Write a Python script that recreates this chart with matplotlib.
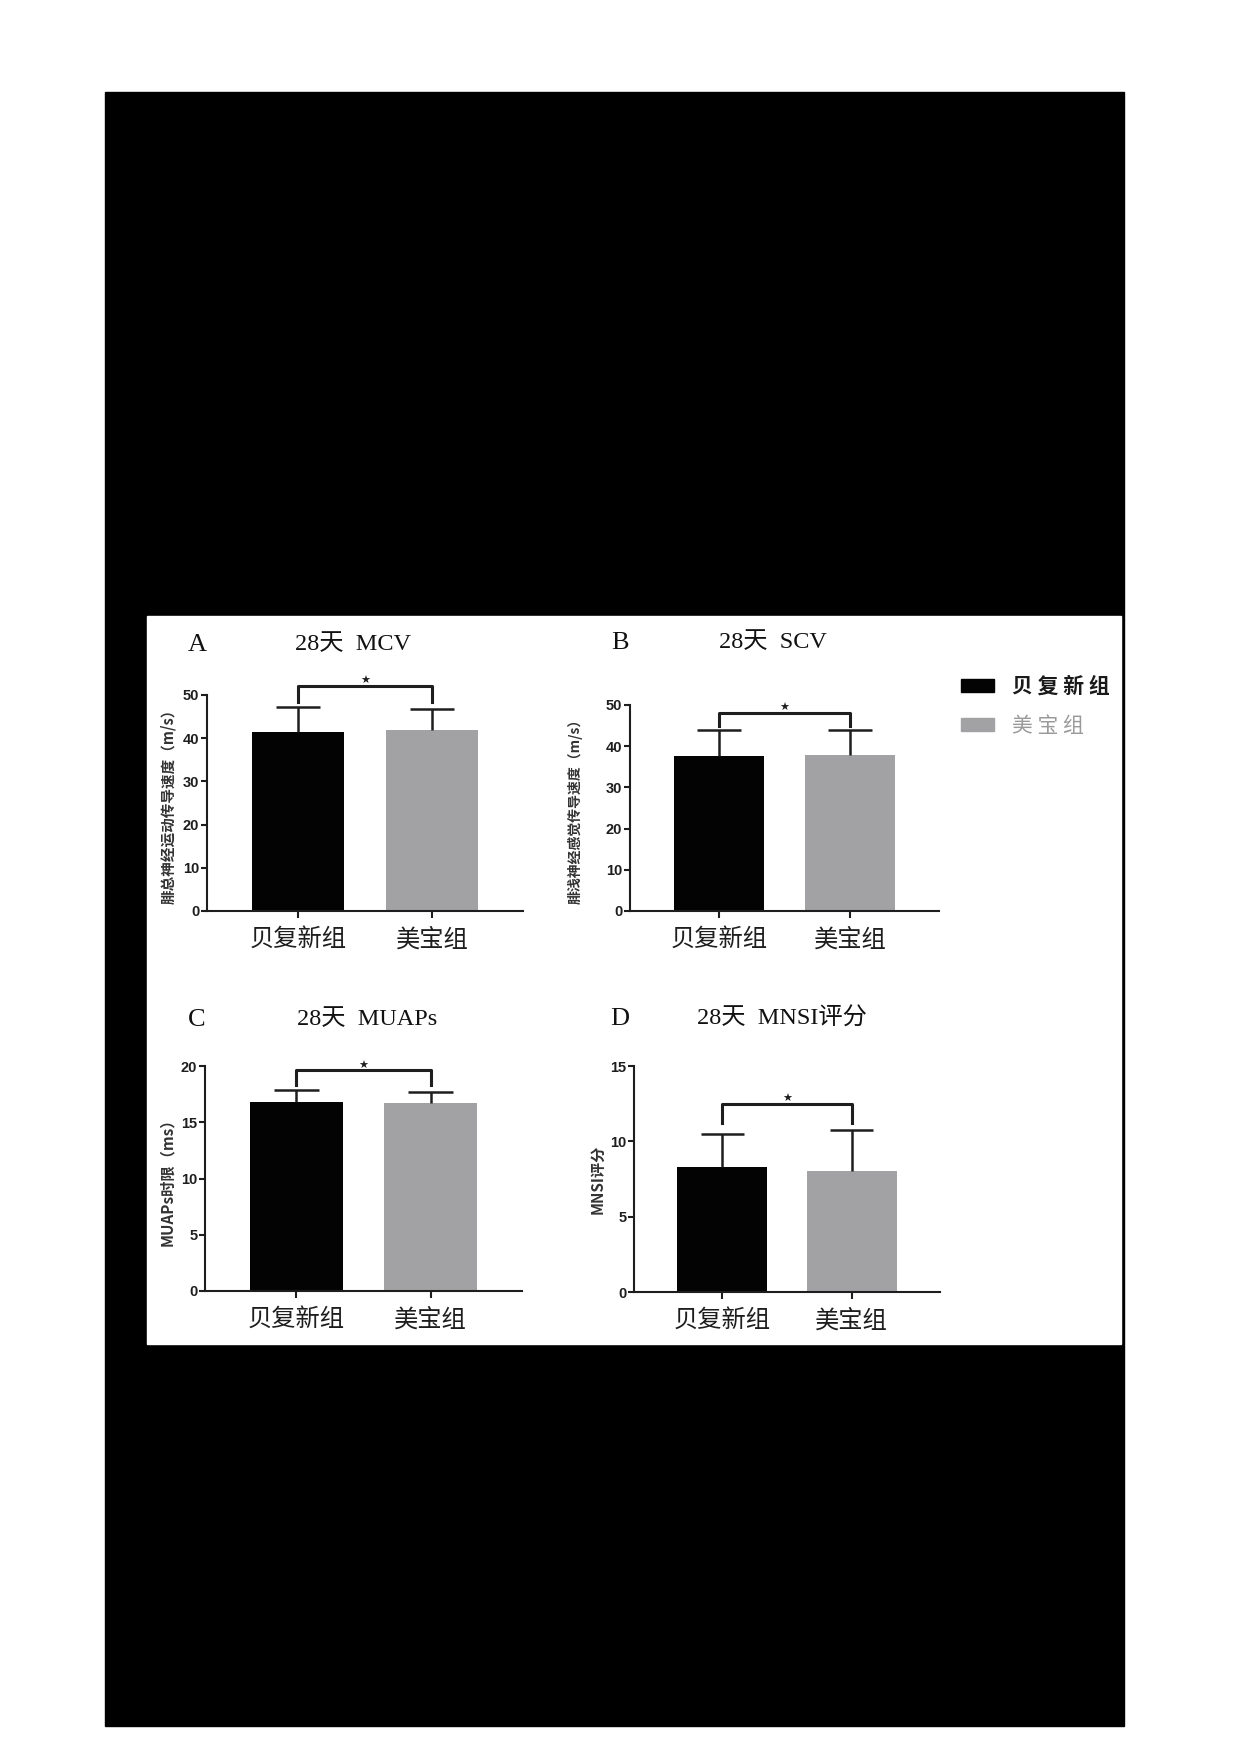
import numpy as np
import matplotlib
matplotlib.use("Agg")
import matplotlib.pyplot as plt
from matplotlib.patches import Rectangle, Patch

W, H = 1240, 1754

groups = ["贝复新组", "美宝组"]
legend_labels = ["贝 复 新 组", "美 宝 组"]
panel_letters = ["A", "B", "C", "D"]
panel_titles = ["28天  MCV", "28天  SCV", "28天  MUAPs", "28天  MNSI评分"]
y_labels = ["腓总神经运动传导速度（m/s）", "腓浅神经感觉传导速度（m/s）",
            "MUAPs时限（ms）", "MNSI评分"]
y_max = [50, 50, 20, 15]
y_step = [10, 10, 5, 5]

# mean and SD per group
mcv_mean = [41.4, 41.9]
mcv_sd = [5.8, 4.9]
scv_mean = [37.6, 37.9]
scv_sd = [6.3, 6.0]
muaps_mean = [16.8, 16.7]
muaps_sd = [1.1, 1.0]
mnsi_mean = [8.3, 8.0]
mnsi_sd = [2.2, 2.75]

# significance bracket (top line, end of legs) in data units
sig_top = [52.1, 48.1, 19.6, 12.5]
sig_leg = [48.4, 44.9, 18.3, 11.2]

means = [mcv_mean, scv_mean, muaps_mean, mnsi_mean]
sds = [mcv_sd, scv_sd, muaps_sd, mnsi_sd]

BLACK = "#030303"
GRAY = "#a2a2a5"
INK = "#1e1e1e"
serif = ["Liberation Serif", "Noto Sans CJK SC"]
cjk = ["Noto Sans CJK SC", "DejaVu Sans"]


def fx(x):
    return x / W


def fy(y):
    return 1 - y / H


def px_rect(l, t, r, b):
    return [l / W, 1 - b / H, (r - l) / W, (b - t) / H]


fig = plt.figure(figsize=(W / 100, H / 100), dpi=100, facecolor="white")

# page background: black block with white figure area
fig.patches.append(Rectangle((fx(105), fy(1726)), (1124 - 105) / W, (1726 - 92) / H,
                             transform=fig.transFigure, color="black", zorder=-2))
fig.patches.append(Rectangle((fx(147), fy(1344)), (1121 - 147) / W, (1344 - 616) / H,
                             transform=fig.transFigure, color="white", zorder=-1))

axes_px = [(207, 695, 523, 911), (630, 705, 939, 911),
           (205, 1066, 522, 1291), (634, 1066, 940, 1292)]
letter_px = [(197, 645), (620, 643), (197, 1020), (620, 1019)]
title_px = [(353, 645), (773, 643), (367, 1020), (782, 1019)]
ylabel_x = [-0.123, -0.178, -0.12, -0.121]
ylabel_size = [10.5, 10, 11, 11]

x = np.arange(len(groups))
for i in range(4):
    ax = fig.add_axes(px_rect(*axes_px[i]))
    ax.set_facecolor("white")
    ax.bar(x, means[i], width=0.69, color=[BLACK, GRAY], zorder=2)

    # upper-only SD bars
    tops = np.array(means[i]) + np.array(sds[i])
    ax.vlines(x, means[i], tops, color=INK, lw=1.8, zorder=3)
    ax.hlines(tops, x - 0.165, x + 0.165, color=INK, lw=1.8, zorder=3)

    # significance bracket and star
    ax.plot([0, 0, 1, 1], [sig_leg[i], sig_top[i], sig_top[i], sig_leg[i]],
            color=INK, lw=2.2, clip_on=False, zorder=4)
    ax.text(0.5, sig_top[i], "★", ha="center", va="bottom", fontsize=8,
            color=INK, family="DejaVu Sans")

    ax.set_xlim(-0.68, 1.68)
    ax.set_ylim(0, y_max[i])
    ax.set_yticks(np.arange(0, y_max[i] + 1, y_step[i]))
    ax.set_xticks(x)
    ax.set_xticklabels(groups, family=cjk, fontsize=17.5, color="#111")
    for lab in ax.get_yticklabels():
        lab.set_family("Liberation Sans")
        lab.set_fontweight("bold")
        lab.set_fontsize(10.5)
        lab.set_color(INK)
    ax.tick_params(axis="y", length=4, width=1.5, pad=1.5, colors=INK)
    ax.tick_params(axis="x", length=5, width=1.5, pad=6, colors=INK)
    for s in ["top", "right"]:
        ax.spines[s].set_visible(False)
    for s in ["left", "bottom"]:
        ax.spines[s].set_linewidth(1.5)
        ax.spines[s].set_color(INK)

    ax.set_ylabel(y_labels[i], family=cjk, fontweight="bold",
                  fontsize=ylabel_size[i], color="#333", va="center")
    ax.yaxis.set_label_coords(ylabel_x[i], 0.5)

    fig.text(fx(letter_px[i][0]), fy(letter_px[i][1]), panel_letters[i],
             family=serif, fontsize=19, ha="center", va="center", color="#111")
    fig.text(fx(title_px[i][0]), fy(title_px[i][1]), panel_titles[i],
             family=serif, fontsize=17.5, ha="center", va="center", color="#111")

handles = [Patch(color=BLACK), Patch(color=GRAY)]
leg = fig.legend(handles, legend_labels, loc="upper left",
                 bbox_to_anchor=(fx(961), fy(676)), frameon=False,
                 prop={"family": cjk, "weight": "bold", "size": 15},
                 handlelength=1.6, handleheight=0.58, handletextpad=0.87,
                 labelspacing=0.85, borderpad=0, borderaxespad=0)
leg.get_texts()[0].set_color("#1a1a1a")
leg.get_texts()[1].set_color("#9a9a9a")
leg.get_texts()[1].set_fontweight("normal")

fig.savefig("out.png", dpi=100, facecolor="white")
